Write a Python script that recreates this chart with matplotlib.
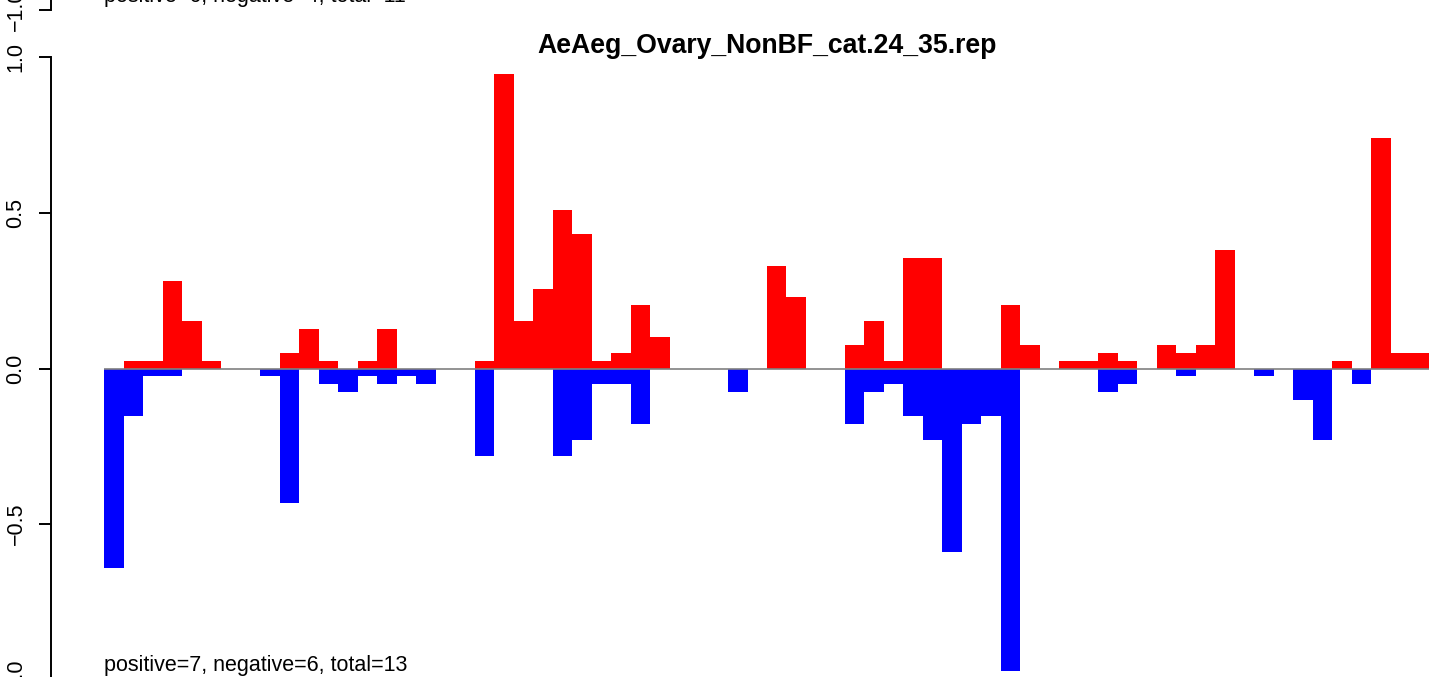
import numpy as np
from matplotlib import pyplot as plt
import matplotlib as mpl

mpl.rcParams['font.family'] = ['Liberation Sans', 'DejaVu Sans']
mpl.rcParams['axes.linewidth'] = 1.4

TITLE = 'AeAeg_Ovary_NonBF_cat.24_35.rep'
NOTE = 'positive=7, negative=6, total=13'
# the panel above this one is cut off at the top of the picture
NOTE_ABOVE = 'positive=6, negative=4, total=11'

# one value per window, red above zero and blue below
positive = [
    0, 0.025, 0.025, 0.28, 0.152, 0.025, 0, 0, 0, 0.051,
    0.127, 0.025, 0, 0.025, 0.127, 0, 0, 0, 0, 0.025,
    0.945, 0.152, 0.254, 0.51, 0.432, 0.025, 0.051, 0.203, 0.102, 0,
    0, 0, 0, 0, 0.33, 0.228, 0, 0, 0.076, 0.152,
    0.025, 0.356, 0.356, 0, 0, 0, 0.203, 0.076, 0, 0.025,
    0.025, 0.051, 0.025, 0, 0.076, 0.051, 0.076, 0.381, 0, 0,
    0, 0, 0, 0.025, 0, 0.74, 0.051, 0.051,
]
negative = [
    -0.64, -0.152, -0.025, -0.025, 0, 0, 0, 0, -0.025, -0.432,
    0, -0.051, -0.076, -0.025, -0.051, -0.025, -0.051, 0, 0, -0.28,
    0, 0, 0, -0.28, -0.23, -0.051, -0.051, -0.178, 0, 0,
    0, 0, -0.076, 0, 0, 0, 0, 0, -0.178, -0.076,
    -0.051, -0.152, -0.23, -0.589, -0.178, -0.152, -0.97, 0, 0, 0,
    0, -0.076, -0.051, 0, 0, -0.025, 0, 0, 0, -0.025,
    0, -0.102, -0.23, 0, -0.051, 0, 0, 0,
]

yticks = [-1.0, -0.5, 0.0, 0.5, 1.0]
yticklabels = ['\u22121.0', '\u22120.5', '0.0', '0.5', '1.0']

W, H = 1429, 677
n = len(positive)
# R style 4% padding on both axes
xlim = (-0.04 * n, 1.04 * n)
ylim = (-1.08, 1.08)


def style_axis(ax):
    ax.set_xlim(xlim)
    ax.set_ylim(ylim)
    for side in ['top', 'right', 'bottom']:
        ax.spines[side].set_visible(False)
    ax.spines['left'].set_bounds(-1, 1)
    ax.set_xticks([])
    ax.set_yticks(yticks)
    ax.set_yticklabels(yticklabels, rotation=90, va='center', fontsize=15.5)
    ax.tick_params(axis='y', length=8.6, width=1.4, pad=9)
    ax.patch.set_visible(False)


fig = plt.figure(figsize=(W / 100, H / 100), dpi=100)

# plot region in pixels: x 51..1483, y 32..705 (the right part is cropped)
left, right = 51, 1483
top, bottom = 32.1, 704.9
pos = [left / W, (H - bottom) / H, (right - left) / W, (bottom - top) / H]
ax = fig.add_axes(pos)
style_axis(ax)

x = np.arange(n)
ax.bar(x, positive, width=1, align='edge', color='#ff0000', linewidth=0)
ax.bar(x, negative, width=1, align='edge', color='#0000ff', linewidth=0)
ax.hlines(0, 0, n, color='#808080', linewidth=1.2)

ax.text(0.5, 0.969, TITLE, transform=ax.transAxes, ha='center', va='baseline',
        fontsize=19.2, fontweight='bold')
ax.text(0, -0.97, NOTE, ha='left', va='baseline', fontsize=15.5)

# bottom edge of the previous panel
shift = 670 / H
ax_above = fig.add_axes([pos[0], pos[1] + shift, pos[2], pos[3]])
style_axis(ax_above)
ax_above.text(0, -0.975, NOTE_ABOVE, ha='left', va='baseline', fontsize=15.5)

plt.savefig('out.png', dpi=100)
